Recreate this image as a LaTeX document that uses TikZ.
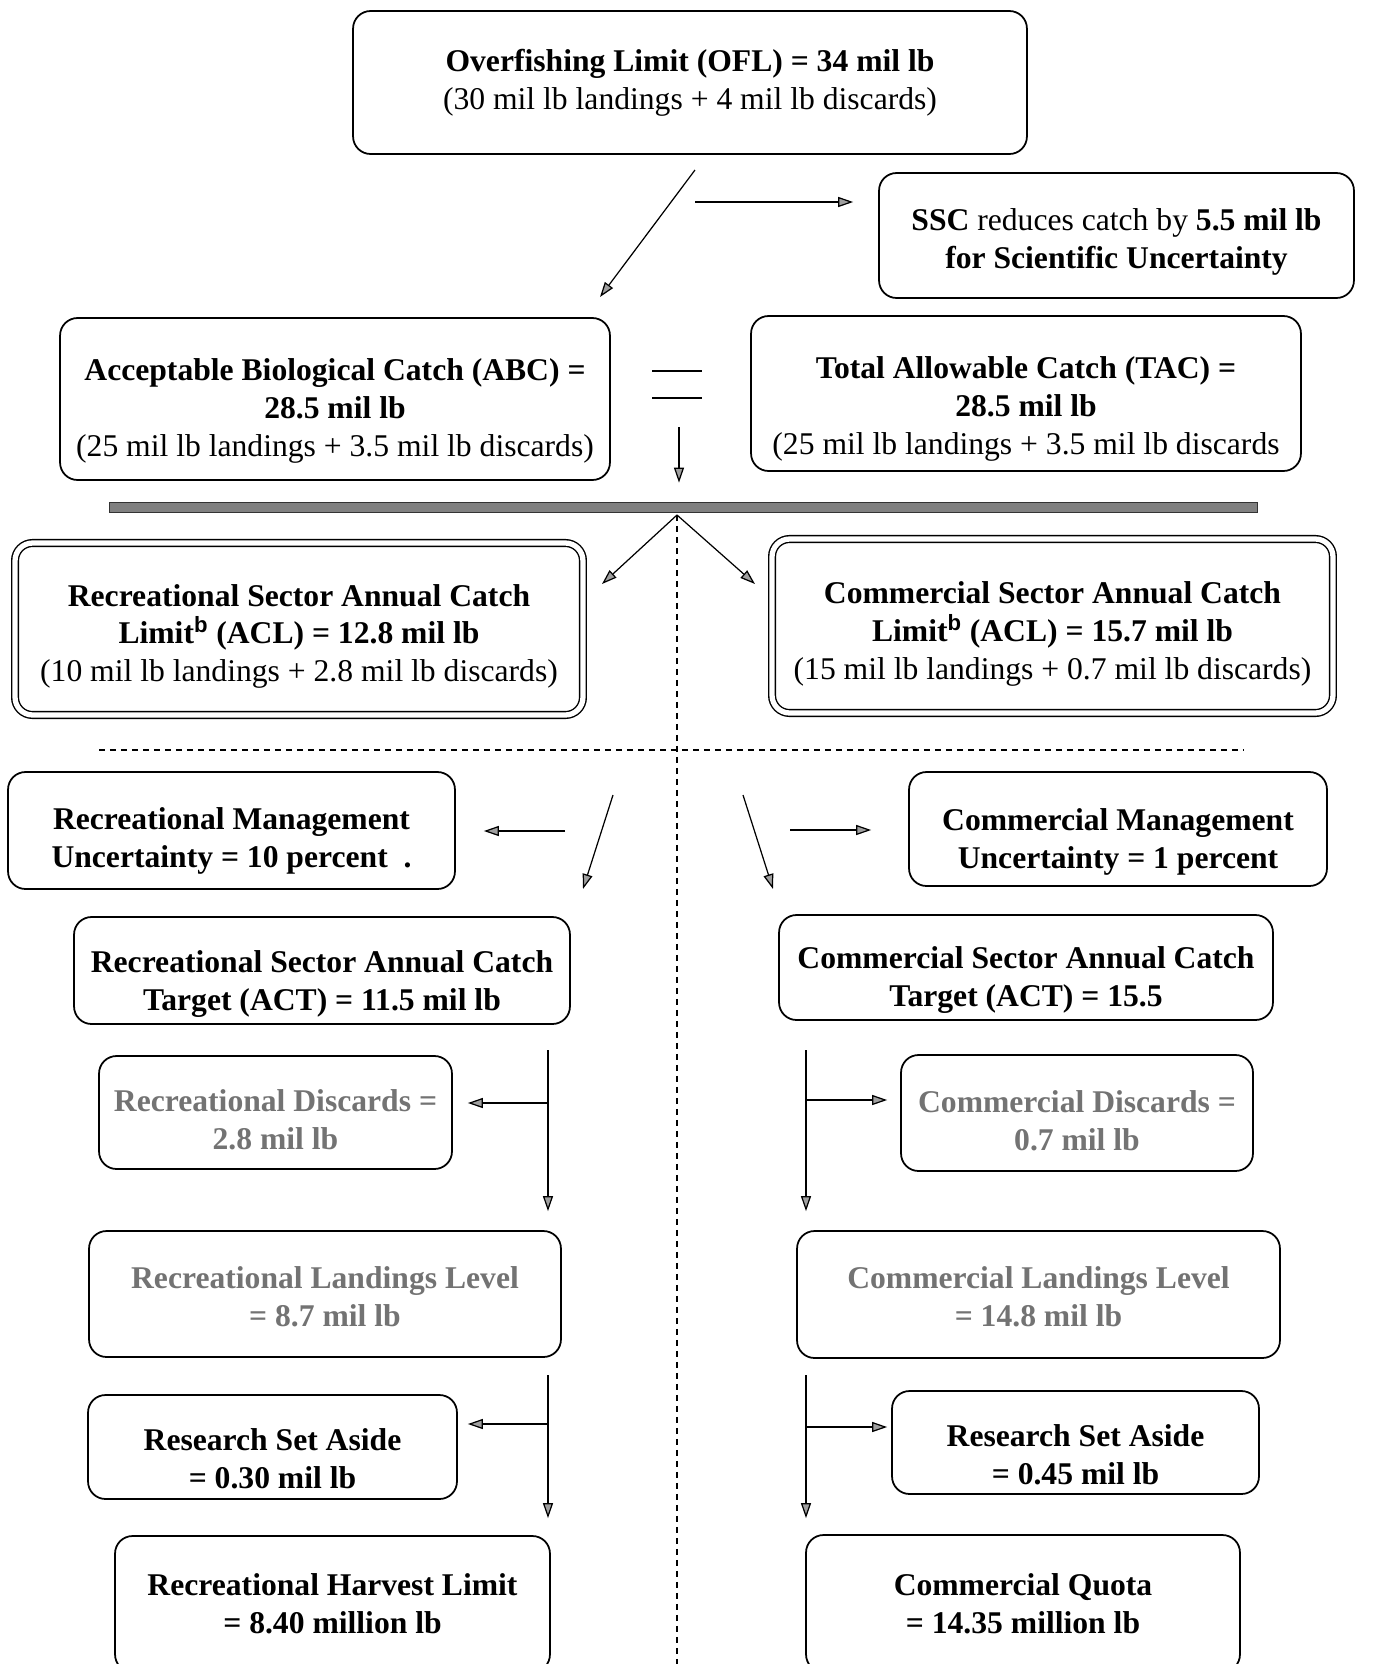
\documentclass[tikz,border=0pt]{standalone}
\usepackage{fontspec}
\setmainfont{Liberation Serif}
\setsansfont{Liberation Sans}
\usetikzlibrary{arrows.meta}
\newcommand{\topstrut}[1]{\rule{0pt}{#1}}

\begin{document}
\begin{tikzpicture}[x=0.02cm,y=-0.02cm,
 box/.style={draw,line width=1pt,rounded corners=0.35cm,align=center,inner sep=0pt,font=\fontsize{18}{21.6}\selectfont},
 dbox/.style={box,double,double distance=3pt,line width=0.8pt},
 greytext/.style={text=black!55},
 arr/.style={line width=0.7pt,-{Triangle[length=0.3cm,width=0.2cm,fill=gray!75]}},
 dashline/.style={line width=0.7pt,dash pattern=on 0.12cm off 0.1cm}]
\path[use as bounding box] (0,0) rectangle (1391,1664);
\clip (0,0) rectangle (1391,1664);

% top
\node [box,minimum width=13.48cm,minimum height=2.86cm] (ofl) at (690,82.5)
 {\textbf{Overfishing Limit (OFL) = 34 mil lb}\\(30 mil lb landings + 4 mil lb discards)};
\node [box,minimum width=9.5cm,minimum height=2.5cm] (ssc) at (1116.5,235.5)
 {\topstrut{19.7pt}\textbf{SSC} reduces catch by \textbf{5.5 mil lb}\\\textbf{for Scientific Uncertainty}};
\node [box,minimum width=11cm,minimum height=3.24cm] (abc) at (335,399)
 {\topstrut{25.7pt}\textbf{Acceptable Biological Catch (ABC) =}\\\textbf{28.5 mil lb}\\(25 mil lb landings + 3.5 mil lb discards)};
\node [box,minimum width=11cm,minimum height=3.1cm] (tac) at (1026,393.5)
 {\topstrut{30.5pt}\textbf{Total Allowable Catch (TAC) =}\\\textbf{28.5 mil lb}\\(25 mil lb landings + 3.5 mil lb discards};
\node [draw=black!80,fill=black!50,inner sep=0pt,minimum width=22.96cm,minimum height=0.2cm] (bar) at (683,507) {};

% sector limits
\node [dbox,minimum width=11.36cm,minimum height=3.44cm] (recacl) at (299,629)
 {\topstrut{20.9pt}\textbf{Recreational Sector Annual Catch}\\\textbf{Limit\textsuperscript{\sffamily b} (ACL) = 12.8 mil lb}\\(10 mil lb landings + 2.8 mil lb discards)};
\node [dbox,minimum width=11.22cm,minimum height=3.48cm] (comacl) at (1052.5,626)
 {\topstrut{21.3pt}\textbf{Commercial Sector Annual Catch}\\\textbf{Limit\textsuperscript{\sffamily b} (ACL) = 15.7 mil lb}\\(15 mil lb landings + 0.7 mil lb discards)};

% recreational side
\node [box,minimum width=8.94cm,minimum height=2.34cm] (recmgmt) at (231.5,830.5)
 {\topstrut{24.5pt}\textbf{Recreational Management}\\\textbf{Uncertainty = 10 percent\ \ .}};
\node [box,minimum width=9.92cm,minimum height=2.14cm] (recact) at (322,970.5)
 {\topstrut{28.1pt}\textbf{Recreational Sector Annual Catch}\\\textbf{Target (ACT) = 11.5 mil lb}};
\node [box,greytext,minimum width=7.06cm,minimum height=2.26cm] (recdis) at (275.5,1112.5)
 {\topstrut{20.9pt}\textbf{Recreational Discards =}\\\textbf{2.8 mil lb}};
\node [box,greytext,minimum width=9.44cm,minimum height=2.52cm] (recland) at (325,1294)
 {\topstrut{16.1pt}\textbf{Recreational Landings Level}\\\textbf{= 8.7 mil lb}};
\node [box,minimum width=7.38cm,minimum height=2.08cm] (recrsa) at (272.5,1447)
 {\topstrut{25.7pt}\textbf{Research Set Aside}\\\textbf{= 0.30 mil lb}};
\node [box,minimum width=8.7cm,minimum height=2.72cm] (rechl) at (332.5,1604)
 {\textbf{Recreational Harvest Limit}\\\textbf{= 8.40 million lb}};

% commercial side
\node [box,minimum width=8.36cm,minimum height=2.28cm] (commgmt) at (1118,829)
 {\topstrut{26.9pt}\textbf{Commercial Management}\\\textbf{Uncertainty = 1 percent}};
\node [box,minimum width=9.88cm,minimum height=2.1cm] (comact) at (1026,967.5)
 {\topstrut{26.9pt}\textbf{Commercial Sector Annual Catch}\\\textbf{Target (ACT) = 15.5}};
\node [box,greytext,minimum width=7.04cm,minimum height=2.32cm] (comdis) at (1077,1113)
 {\topstrut{20.9pt}\textbf{Commercial Discards =}\\\textbf{0.7 mil lb}};
\node [box,greytext,minimum width=9.66cm,minimum height=2.54cm] (comland) at (1038.5,1294.5)
 {\topstrut{15.5pt}\textbf{Commercial Landings Level}\\\textbf{= 14.8 mil lb}};
\node [box,minimum width=7.34cm,minimum height=2.06cm] (comrsa) at (1075.5,1442.5)
 {\topstrut{26.3pt}\textbf{Research Set Aside}\\\textbf{= 0.45 mil lb}};
\node [box,minimum width=8.68cm,minimum height=2.74cm] (comq) at (1023,1603.5)
 {\textbf{Commercial Quota}\\\textbf{= 14.35 million lb}};

% arrows
\coordinate (o1) at (695,170);
\coordinate (o2) at (600,297);
\coordinate (o3) at (695,202);
\draw[arr] (o1) -- (o2);
\draw[arr,shorten >=0.5cm] (o3) -- (o3 -| ssc.west);
\draw[line width=1pt] (652,371) -- (702,371) (652,398) -- (702,398);
\coordinate (e1) at (679,427);
\draw[arr,shorten >=0.38cm] (e1) -- (e1 |- bar.north);
\coordinate (b0) at (677,515);
\coordinate (b1) at (602,584);
\coordinate (b2) at (755,584);
\draw[arr] (b0) -- (b1);
\draw[arr] (b0) -- (b2);
\draw[dashline] (b0) -- (677,1680);
\draw[dashline] (99,750) -- (1244,750);

\coordinate (m1) at (565,831);
\coordinate (m2) at (613,795);
\coordinate (m3) at (583,889);
\coordinate (m4) at (743,795);
\coordinate (m5) at (773,889);
\coordinate (m6) at (790,830);
\draw[arr,shorten >=0.56cm] (m1) -- (m1 -| recmgmt.east);
\draw[arr] (m2) -- (m3);
\draw[arr] (m4) -- (m5);
\draw[arr,shorten >=0.74cm] (m6) -- (m6 -| commgmt.west);

\coordinate (r1) at (548,1050);
\coordinate (r2) at (548,1103);
\coordinate (r3) at (548,1375);
\coordinate (r4) at (548,1424);
\draw[arr,shorten >=0.38cm] (r1) -- (r1 |- recland.north);
\draw[arr,shorten >=0.3cm] (r2) -- (r2 -| recdis.east);
\draw[arr,shorten >=0.34cm] (r3) -- (r3 |- rechl.north);
\draw[arr,shorten >=0.2cm] (r4) -- (r4 -| recrsa.east);

\coordinate (c1) at (806,1050);
\coordinate (c2) at (806,1100);
\coordinate (c3) at (806,1375);
\coordinate (c4) at (806,1427);
\draw[arr,shorten >=0.38cm] (c1) -- (c1 |- comland.north);
\draw[arr,shorten >=0.26cm] (c2) -- (c2 -| comdis.west);
\draw[arr,shorten >=0.32cm] (c3) -- (c3 |- comq.north);
\draw[arr,shorten >=0.08cm] (c4) -- (c4 -| comrsa.west);
\end{tikzpicture}
\end{document}
